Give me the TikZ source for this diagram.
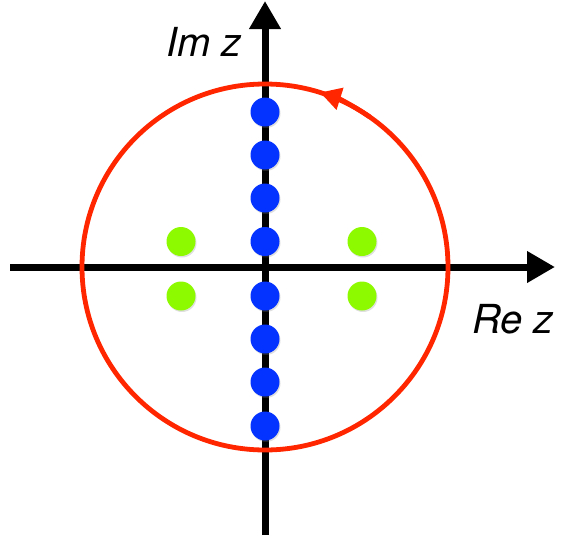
\documentclass[tikz,border=0pt]{standalone}
\usepackage{fontspec}
\setmainfont{TeX Gyre Heros}
\usetikzlibrary{arrows.meta,shadows}
\definecolor{axred}{HTML}{FF2600}
\definecolor{axblue}{HTML}{0433FF}
\definecolor{axgreen}{HTML}{8EFA00}
\tikzset{
  axis/.style={line width=7pt,-{Triangle[length=28pt,width=30pt]}},
  dot/.style={circle,inner sep=0pt,minimum size=29pt,
    drop shadow={opacity=0.25,shadow xshift=1pt,shadow yshift=-1.5pt}},
  pole/.style={dot,fill=axblue},
  zero/.style={dot,fill=axgreen},
  lab/.style={font=\fontsize{40}{44}\selectfont\itshape,inner sep=0pt,anchor=base west},
}
\begin{document}
\begin{tikzpicture}[x=1pt,y=-1pt]
\useasboundingbox (0,0) rectangle (561,541);
\coordinate (O) at (265,267);
\coordinate (xs) at (10,267);
\coordinate (xe) at (555,267);
\coordinate (ys) at (265,535);
\coordinate (ye) at (265,1);
\draw[axis] (xs) -- (xe);
\draw[axis] (ys) -- (ye);
\draw[axred,line width=4.8pt] (O) circle[radius=183];
\draw[axred,line width=4.8pt,-{Triangle[length=21pt,width=22pt]}] (O) ++(-55:183) arc[start angle=-55,end angle=-72.5,radius=183];
\foreach \y [count=\i] in {112,155,198,241.5,296,339,382,426}
  \node[pole] (p\i) at (265,\y) {};
\node[zero] (z1) at (181,241.5) {};
\node[zero] (z2) at (362,241.5) {};
\node[zero] (z3) at (181,296) {};
\node[zero] (z4) at (362,296) {};
\node[lab] (im) at (166,56) {Im z};
\node[lab] (re) at (472,333) {Re z};
\end{tikzpicture}
\end{document}
